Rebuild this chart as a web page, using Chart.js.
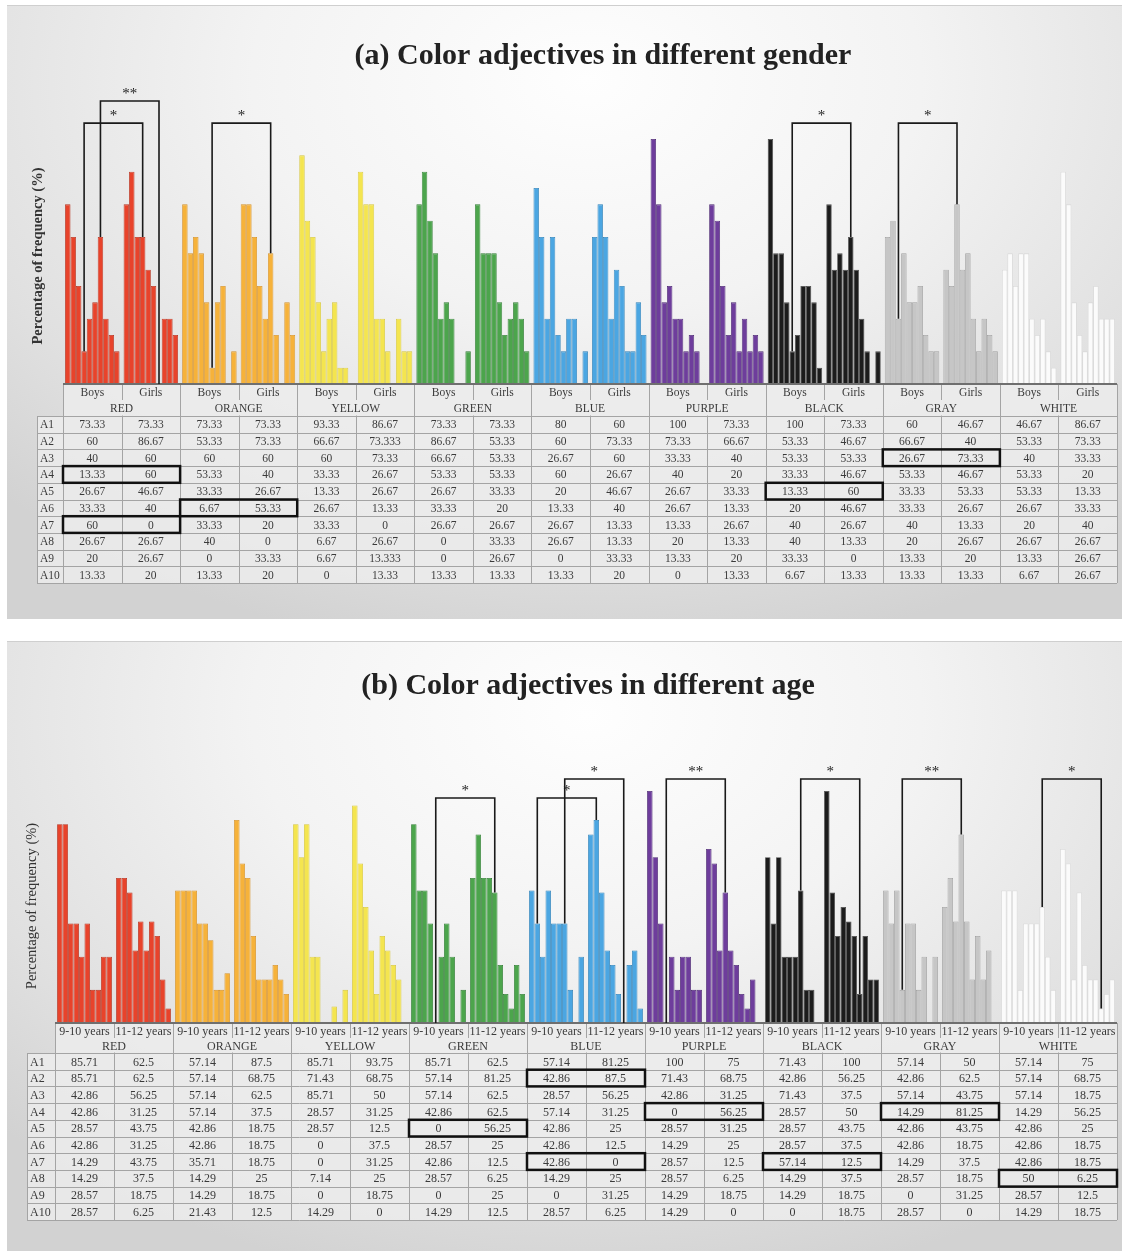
<!DOCTYPE html>
<html>
<head>
<meta charset="utf-8">
<script src="https://cdn.jsdelivr.net/npm/chart.js@4.4.1/dist/chart.umd.min.js"></script>
<style>
  body { margin: 0; background: #fff; width: 1122px; height: 1251px; position: relative; overflow: hidden; }
  .panel { position: absolute; left: 7px; width: 1115px; border-top: 1px solid #cfcfcf;
    background: radial-gradient(ellipse 75% 95% at 52% 12%, #fefefe 0%, #f3f3f3 40%, #e0e0e0 78%, #d2d2d2 100%); }
  #pa { top: 5px; height: 613px; }
  #pb { top: 641px; height: 610px; }
  canvas { position: absolute; left: 0; top: 0; }
</style>
</head>
<body>
<div class="panel" id="pa"><canvas id="chartA" width="1115" height="613"></canvas></div>
<div class="panel" id="pb"><canvas id="chartB" width="1115" height="610"></canvas></div>
<script>
// categories
const colorNames = ['RED', 'ORANGE', 'YELLOW', 'GREEN', 'BLUE', 'PURPLE', 'BLACK', 'GRAY', 'WHITE'];
const genderGroups = ['Boys', 'Girls'];
const ageGroups = ['9-10 years', '11-12 years'];
const adjectives = ['A1', 'A2', 'A3', 'A4', 'A5', 'A6', 'A7', 'A8', 'A9', 'A10'];

// (a) gender, % frequency: RED Boys, RED Girls, ORANGE Boys, ORANGE Girls, ... WHITE Girls
const genderA1  = [73.33, 73.33, 73.33, 73.33, 93.33, 86.67, 73.33, 73.33, 80, 60, 100, 73.33, 100, 73.33, 60, 46.67, 46.67, 86.67];
const genderA2  = [60, 86.67, 53.33, 73.33, 66.67, 73.333, 86.67, 53.33, 60, 73.33, 73.33, 66.67, 53.33, 46.67, 66.67, 40, 53.33, 73.33];
const genderA3  = [40, 60, 60, 60, 60, 73.33, 66.67, 53.33, 26.67, 60, 33.33, 40, 53.33, 53.33, 26.67, 73.33, 40, 33.33];
const genderA4  = [13.33, 60, 53.33, 40, 33.33, 26.67, 53.33, 53.33, 60, 26.67, 40, 20, 33.33, 46.67, 53.33, 46.67, 53.33, 20];
const genderA5  = [26.67, 46.67, 33.33, 26.67, 13.33, 26.67, 26.67, 33.33, 20, 46.67, 26.67, 33.33, 13.33, 60, 33.33, 53.33, 53.33, 13.33];
const genderA6  = [33.33, 40, 6.67, 53.33, 26.67, 13.33, 33.33, 20, 13.33, 40, 26.67, 13.33, 20, 46.67, 33.33, 26.67, 26.67, 33.33];
const genderA7  = [60, 0, 33.33, 20, 33.33, 0, 26.67, 26.67, 26.67, 13.33, 13.33, 26.67, 40, 26.67, 40, 13.33, 20, 40];
const genderA8  = [26.67, 26.67, 40, 0, 6.67, 26.67, 0, 33.33, 26.67, 13.33, 20, 13.33, 40, 13.33, 20, 26.67, 26.67, 26.67];
const genderA9  = [20, 26.67, 0, 33.33, 6.67, 13.333, 0, 26.67, 0, 33.33, 13.33, 20, 33.33, 0, 13.33, 20, 13.33, 26.67];
const genderA10 = [13.33, 20, 13.33, 20, 0, 13.33, 13.33, 13.33, 13.33, 20, 0, 13.33, 6.67, 13.33, 13.33, 13.33, 6.67, 26.67];

// (b) age, % frequency: RED 9-10, RED 11-12, ORANGE 9-10, ... WHITE 11-12
const ageA1  = [85.71, 62.5, 57.14, 87.5, 85.71, 93.75, 85.71, 62.5, 57.14, 81.25, 100, 75, 71.43, 100, 57.14, 50, 57.14, 75];
const ageA2  = [85.71, 62.5, 57.14, 68.75, 71.43, 68.75, 57.14, 81.25, 42.86, 87.5, 71.43, 68.75, 42.86, 56.25, 42.86, 62.5, 57.14, 68.75];
const ageA3  = [42.86, 56.25, 57.14, 62.5, 85.71, 50, 57.14, 62.5, 28.57, 56.25, 42.86, 31.25, 71.43, 37.5, 57.14, 43.75, 57.14, 18.75];
const ageA4  = [42.86, 31.25, 57.14, 37.5, 28.57, 31.25, 42.86, 62.5, 57.14, 31.25, 0, 56.25, 28.57, 50, 14.29, 81.25, 14.29, 56.25];
const ageA5  = [28.57, 43.75, 42.86, 18.75, 28.57, 12.5, 0, 56.25, 42.86, 25, 28.57, 31.25, 28.57, 43.75, 42.86, 43.75, 42.86, 25];
const ageA6  = [42.86, 31.25, 42.86, 18.75, 0, 37.5, 28.57, 25, 42.86, 12.5, 14.29, 25, 28.57, 37.5, 42.86, 18.75, 42.86, 18.75];
const ageA7  = [14.29, 43.75, 35.71, 18.75, 0, 31.25, 42.86, 12.5, 42.86, 0, 28.57, 12.5, 57.14, 12.5, 14.29, 37.5, 42.86, 18.75];
const ageA8  = [14.29, 37.5, 14.29, 25, 7.14, 25, 28.57, 6.25, 14.29, 25, 28.57, 6.25, 14.29, 37.5, 28.57, 18.75, 50, 6.25];
const ageA9  = [28.57, 18.75, 14.29, 18.75, 0, 18.75, 0, 25, 0, 31.25, 14.29, 18.75, 14.29, 18.75, 0, 31.25, 28.57, 12.5];
const ageA10 = [28.57, 6.25, 21.43, 12.5, 14.29, 0, 14.29, 12.5, 28.57, 6.25, 14.29, 0, 0, 18.75, 28.57, 0, 14.29, 18.75];

// significant differences: [color, adjective, stars, bracket tier]
const genderMarks = [['RED', 'A4', '*', 0], ['RED', 'A7', '**', 1], ['ORANGE', 'A6', '*', 0],
                     ['BLACK', 'A5', '*', 0], ['GRAY', 'A3', '*', 0]];
const ageMarks = [['GREEN', 'A5', '*', 0], ['BLUE', 'A2', '*', 0], ['BLUE', 'A7', '*', 1], ['PURPLE', 'A4', '**', 1],
                  ['BLACK', 'A7', '*', 1], ['GRAY', 'A4', '**', 1], ['WHITE', 'A8', '*', 1]];

const fills = ['#e8432b', '#f6b23a', '#f4e54f', '#4ca54c', '#4ba6e2', '#6e3d9c', '#1c1c1c', '#c6c6c6', '#fbfbfb'];
const edges = ['#b5321f', '#d59128', '#d6c63a', '#2f7c33', '#2c7fb6', '#4a2670', '#4a4a4a', '#a0a0a0', '#d8d8d8'];
const serif = '"Liberation Serif", "DejaVu Serif", serif';

const panelPlugin = {
  id: 'panel',
  afterDatasetsDraw(chart, args, o) {
    const ctx = chart.ctx, xs = chart.scales.x, ys = chart.scales.y;
    const n = chart.data.labels.length;
    const step = xs.getPixelForValue(1) - xs.getPixelForValue(0);
    const edge = i => xs.getPixelForValue(i) - step / 2;
    const top = chart.chartArea.bottom;
    const rowsTop = top + 2 * o.headH;
    const rowY = r => rowsTop + r * o.rowH;
    const rows = chart.data.datasets.map(d => d.data);
    ctx.save();

    // table background
    ctx.fillStyle = 'rgba(236,236,236,0.85)';
    ctx.fillRect(edge(0), top, edge(n) - edge(0), rowY(rows.length) - top);
    ctx.fillRect(o.labelLeft, rowsTop, edge(0) - o.labelLeft, rowY(rows.length) - rowsTop);

    // grid lines
    ctx.strokeStyle = '#a4a4a4';
    ctx.lineWidth = 1;
    ctx.beginPath();
    for (let r = 0; r <= rows.length; r++) {
      ctx.moveTo(o.labelLeft, Math.round(rowY(r)) + 0.5);
      ctx.lineTo(edge(n), Math.round(rowY(r)) + 0.5);
    }
    ctx.moveTo(o.labelLeft + 0.5, rowsTop); ctx.lineTo(o.labelLeft + 0.5, rowY(rows.length));
    for (let i = 0; i <= n; i++) {
      const xx = Math.round(edge(i)) + 0.5;
      ctx.moveTo(xx, top); ctx.lineTo(xx, rowY(rows.length));
    }
    ctx.stroke();
    // hide the group divider inside the colour-name row
    ctx.fillStyle = 'rgba(236,236,236,1)';
    for (let c = 0; c < n / 2; c++) {
      const xx = Math.round(edge(2 * c + 1));
      ctx.fillRect(xx - 1, top + o.headH, 3, o.headH - 0.5);
    }
    // axis line
    ctx.strokeStyle = '#6f6f6f';
    ctx.lineWidth = 2;
    ctx.beginPath(); ctx.moveTo(edge(0), top); ctx.lineTo(edge(n), top); ctx.stroke();

    // header text
    ctx.fillStyle = '#3a3a3a';
    ctx.textAlign = 'center';
    ctx.textBaseline = 'middle';
    ctx.font = o.fontSize + 'px ' + serif;
    for (let i = 0; i < n; i++) {
      ctx.fillText(o.groups[i % 2], xs.getPixelForValue(i), top + o.headH / 2 + 1);
    }
    for (let c = 0; c < n / 2; c++) {
      ctx.fillText(colorNames[c], edge(2 * c + 1), top + o.headH * 1.5 + 1);
    }
    // body text
    for (let r = 0; r < rows.length; r++) {
      ctx.textAlign = 'left';
      ctx.fillText(adjectives[r], o.labelLeft + 3, rowY(r) + o.rowH / 2 + 1);
      ctx.textAlign = 'center';
      for (let i = 0; i < n; i++) {
        ctx.fillText(String(rows[r][i]), xs.getPixelForValue(i), rowY(r) + o.rowH / 2 + 1);
      }
    }

    // highlighted pairs and brackets
    o.marks.forEach(([color, adj, stars, tier]) => {
      const c = colorNames.indexOf(color) * 2;
      const r = adjectives.indexOf(adj);
      ctx.strokeStyle = '#111';
      ctx.lineWidth = 2.5;
      ctx.strokeRect(edge(c), rowY(r), 2 * step, o.rowH);

      const meta = chart.getDatasetMeta(r);
      const xl = meta.data[c].x, xr = meta.data[c + 1].x;
      const yl = ys.getPixelForValue(rows[r][c]), yr = ys.getPixelForValue(rows[r][c + 1]);
      const yt = ys.getPixelForValue(o.levels[tier]);
      ctx.lineWidth = 1.6;
      ctx.strokeStyle = '#1a1a1a';
      ctx.beginPath();
      ctx.moveTo(xl, yl); ctx.lineTo(xl, yt); ctx.lineTo(xr, yt); ctx.lineTo(xr, yr);
      ctx.stroke();
      ctx.fillStyle = '#222';
      ctx.font = '15px ' + serif;
      ctx.textAlign = 'center';
      ctx.textBaseline = 'alphabetic';
      ctx.fillText(stars, (xl + xr) / 2, yt - 3);
    });
    ctx.restore();
  },
  afterDraw(chart, args, o) {
    const ctx = chart.ctx;
    ctx.save();
    ctx.fillStyle = '#222';
    ctx.textAlign = 'center';
    ctx.textBaseline = 'middle';
    ctx.font = 'bold 30px ' + serif;
    ctx.fillText(o.title, o.titleX, o.titleY);
    ctx.translate(o.yTitleX, o.yTitleY);
    ctx.rotate(-Math.PI / 2);
    ctx.fillStyle = '#333';
    ctx.font = o.yTitleFont + ' 14.5px ' + serif;
    ctx.fillText('Percentage of frequency (%)', 0, 0);
    ctx.restore();
  }
};

function makeChart(id, rows, groups, pad, extra) {
  return new Chart(document.getElementById(id), {
    type: 'bar',
    data: {
      labels: colorNames.flatMap(c => groups.map(g => c + ' ' + g)),
      datasets: rows.map((r, k) => ({
        label: adjectives[k],
        data: r,
        backgroundColor: ctx => fills[Math.floor(ctx.dataIndex / 2)],
        borderColor: ctx => edges[Math.floor(ctx.dataIndex / 2)],
        borderWidth: 0.8,
        categoryPercentage: 0.93,
        barPercentage: 1
      }))
    },
    options: {
      responsive: false,
      animation: false,
      layout: { padding: pad },
      scales: {
        x: { display: false },
        y: { display: false, min: 0, max: 100 }
      },
      plugins: {
        legend: { display: false },
        tooltip: { enabled: false },
        panel: Object.assign({ groups: groups }, extra)
      }
    },
    plugins: [panelPlugin]
  });
}

makeChart('chartA',
  [genderA1, genderA2, genderA3, genderA4, genderA5, genderA6, genderA7, genderA8, genderA9, genderA10],
  genderGroups,
  { left: 56, right: 5, top: 133, bottom: 235 },
  { marks: genderMarks, levels: [106.5, 115.5], headH: 16, rowH: 16.7, labelLeft: 30, fontSize: 11.5,
    title: '(a) Color adjectives in different gender', titleX: 596, titleY: 50,
    yTitleX: 31, yTitleY: 250, yTitleFont: 'bold' });

makeChart('chartB',
  [ageA1, ageA2, ageA3, ageA4, ageA5, ageA6, ageA7, ageA8, ageA9, ageA10],
  ageGroups,
  { left: 48, right: 5, top: 149, bottom: 229 },
  { marks: ageMarks, levels: [97, 105.2], headH: 15, rowH: 16.7, labelLeft: 20, fontSize: 12,
    title: '(b) Color adjectives in different age', titleX: 581, titleY: 44,
    yTitleX: 25, yTitleY: 264, yTitleFont: 'normal' });
</script>
</body>
</html>
